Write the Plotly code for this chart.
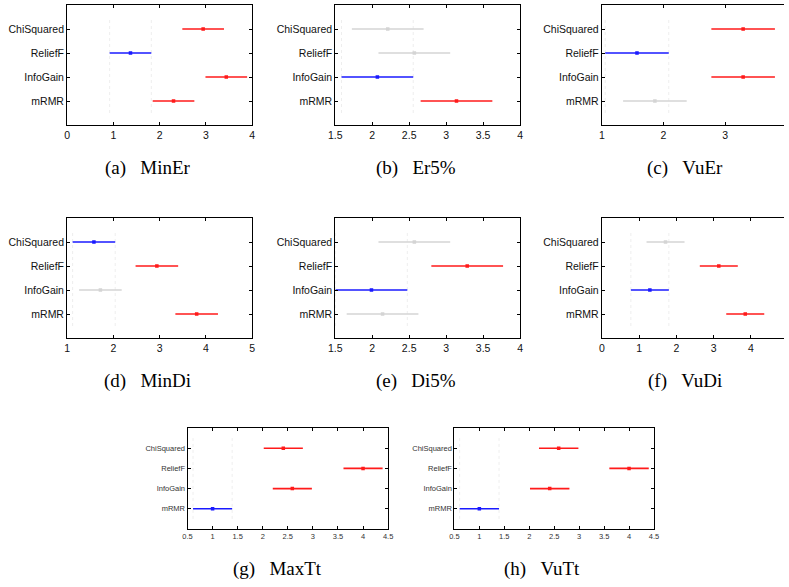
import plotly.graph_objects as go

W, H = 789, 587

groups = ["ChiSquared", "ReliefF", "InfoGain", "mRMR"]
sp = "\u00a0\u00a0\u00a0"
captions = ["(a)" + sp + "MinEr", "(b)" + sp + "Er5%", "(c)" + sp + "VuEr",
            "(d)" + sp + "MinDi", "(e)" + sp + "Di5%", "(f)" + sp + "VuDi",
            "(g)" + sp + "MaxTt", "(h)" + sp + "VuTt"]

# group means and half-width of comparison intervals, per panel
minEr_mean = [2.94, 1.37, 3.44, 2.30]
er5_mean = [2.21, 2.57, 2.07, 3.14]
vuEr_mean = [3.29, 1.57, 3.29, 1.86]
minDi_mean = [1.58, 2.94, 1.72, 3.80]
di5_mean = [2.57, 3.285, 1.99, 2.14]
vuDi_mean = [1.71, 3.14, 1.29, 3.85]
maxTt_mean = [2.41, 4.00, 2.59, 1.00]
vuTt_mean = [2.59, 4.00, 2.41, 1.00]
means = [minEr_mean, er5_mean, vuEr_mean, minDi_mean, di5_mean, vuDi_mean, maxTt_mean, vuTt_mean]
half_widths = [0.45, 0.485, 0.515, 0.46, 0.485, 0.51, 0.39, 0.395]
selected = [1, 2, 1, 0, 2, 2, 3, 3]

# x ranges and tick values per panel
x_ranges = [[0, 4], [1.5, 4], [1, 3.952], [1, 5], [1.5, 4], [0, 4.89], [0.5, 4.5], [0.5, 4.5]]
x_ticks = [[0, 1, 2, 3, 4], [1.5, 2, 2.5, 3, 3.5, 4], [1, 2, 3], [1, 2, 3, 4, 5],
           [1.5, 2, 2.5, 3, 3.5, 4], [0, 1, 2, 3, 4], [0.5, 1, 1.5, 2, 2.5, 3, 3.5, 4, 4.5],
           [0.5, 1, 1.5, 2, 2.5, 3, 3.5, 4, 4.5]]

# layout boxes in pixels: (left, right, top, bottom)
boxes = [(61, 249, 5, 125), (333.3, 521, 5, 125), (604, 789, 5, 125),
         (61, 249, 218, 338), (333.3, 521, 218, 338), (604, 789, 218, 338),
         (183.3, 387, 428, 529), (454.3, 657, 428, 529)]
cap_pos = [(143, 168), (415, 168), (688, 168), (143, 381), (415, 381), (688, 381), (275, 569), (543, 569)]
cut_right = [False, False, True, False, False, True, False, False]
small = [False] * 6 + [True] * 2

RED, BLUE, GRAY = "#ff1a1a", "#1a1aff", "#d4d4d4"

fig = go.Figure()
layout = {}
annotations = []

for p in range(8):
    sfx = "" if p == 0 else str(p + 1)
    xa, ya = "x" + sfx, "y" + sfx
    L, R, T, B = boxes[p]
    m = means[p]
    hw = half_widths[p]
    s = selected[p]
    lo_s, hi_s = m[s] - hw, m[s] + hw
    ypos = [4, 3, 2, 1]
    # dotted reference lines at selected interval edges
    for xv in (lo_s, hi_s):
        fig.add_trace(go.Scatter(x=[xv, xv], y=[0.5, 4.5], mode="lines", xaxis=xa, yaxis=ya,
                                 line=dict(color="#eeeeee", width=1, dash="dot"),
                                 showlegend=False, hoverinfo="skip"))
    for i, g in enumerate(groups):
        lo, hi = m[i] - hw, m[i] + hw
        if i == s:
            col = BLUE
        elif hi >= lo_s and lo <= hi_s:
            col = GRAY
        else:
            col = RED
        fig.add_trace(go.Scatter(x=[m[i]], y=[ypos[i]], mode="markers", xaxis=xa, yaxis=ya,
                                 marker=dict(symbol="square", size=3.5, color=col),
                                 error_x=dict(type="data", array=[hw], color=col, thickness=1.6, width=0),
                                 showlegend=False, name=g))
    fs = 7.5 if small[p] else 10.5
    tcol = "#333333" if small[p] else "#111111"
    layout["xaxis" + sfx] = dict(domain=[L / W, R / W], anchor=ya, range=x_ranges[p],
                                 tickvals=x_ticks[p], ticktext=[("%g" % v) for v in x_ticks[p]],
                                 showgrid=False, zeroline=False, showline=True, linecolor="black",
                                 linewidth=1, mirror="ticks", ticks="inside", ticklen=3,
                                 tickcolor="black", tickfont=dict(family="Liberation Sans", size=fs, color=tcol))
    layout["yaxis" + sfx] = dict(domain=[1 - B / H, 1 - T / H], anchor=xa, range=[0, 5],
                                 tickvals=ypos, ticktext=groups,
                                 showgrid=False, zeroline=False, showline=True, linecolor="black",
                                 linewidth=1, mirror=False if cut_right[p] else "ticks",
                                 ticks="inside", ticklen=3, tickcolor="black",
                                 tickfont=dict(family="Liberation Sans", size=fs, color=tcol))
    cx, cy = cap_pos[p]
    annotations.append(dict(text=captions[p], x=cx / W, y=1 - cy / H, xref="paper", yref="paper",
                            showarrow=False, xanchor="center", yanchor="middle",
                            font=dict(family="Liberation Serif", size=19, color="black")))

fig.update_layout(width=W, height=H, margin=dict(l=0, r=0, t=0, b=0),
                  paper_bgcolor="white", plot_bgcolor="white", annotations=annotations, **layout)
fig.write_html("out.html")
